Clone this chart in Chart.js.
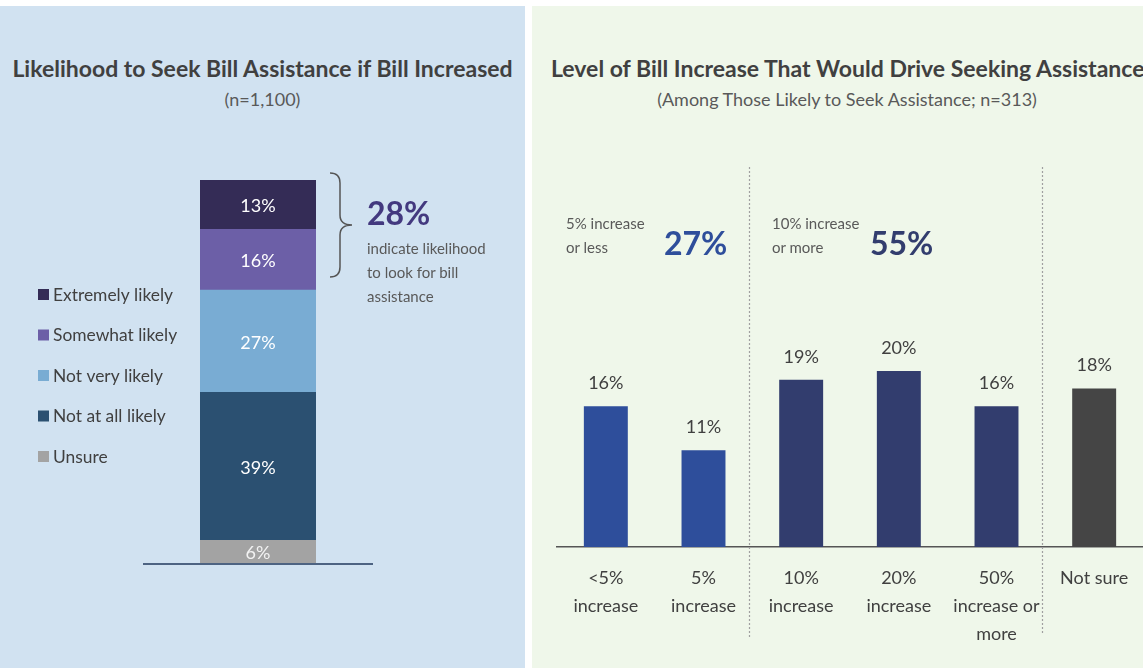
<!DOCTYPE html>
<html>
<head>
<meta charset="utf-8">
<script src="https://cdn.jsdelivr.net/npm/chart.js@4.4.0/dist/chart.umd.min.js"></script>
<style>
html,body{margin:0;padding:0;width:1143px;height:668px;overflow:hidden;background:#fff;font-family:Lato,'Open Sans',sans-serif;color:#404040;}
.painel{position:absolute;top:6px;height:662px;}
#painel-esq{left:0;width:525px;background:#d1e2f1;}
#painel-dir{left:532px;width:611px;background:#eff7ea;}
canvas{position:absolute;}
.txt{position:absolute;white-space:nowrap;}
.titulo{font-weight:bold;font-size:23px;color:#404040;}
.sub{font-size:18px;color:#595959;}
.nota{font-size:15px;color:#595959;line-height:24px;}
.grande{font-weight:bold;font-size:32px;}
</style>
</head>
<body>
<div class="painel" id="painel-esq"></div>
<div class="painel" id="painel-dir"></div>

<canvas id="chartLikelihood" width="525" height="450" style="left:0;top:150px;"></canvas>
<canvas id="chartIncrease" width="611" height="518" style="left:532px;top:150px;"></canvas>

<div class="txt titulo" style="left:0;width:525px;text-align:center;top:54px;">Likelihood to Seek Bill Assistance if Bill Increased</div>
<div class="txt sub" style="left:0;width:525px;text-align:center;top:88px;">(n=1,100)</div>
<div class="txt grande" style="left:367px;top:193px;color:#43397f;">28%</div>
<div class="txt nota" style="left:367px;top:236px;">indicate likelihood<br>to look for bill<br>assistance</div>

<div class="txt titulo" style="left:551px;top:54px;">Level of Bill Increase That Would Drive Seeking Assistance</div>
<div class="txt sub" style="left:547px;width:600px;text-align:center;top:88px;">(Among Those Likely to Seek Assistance; n=313)</div>
<div class="txt nota" style="left:566px;top:211px;">5% increase<br>or less</div>
<div class="txt grande" style="left:664px;top:223px;color:#2e4e9b;">27%</div>
<div class="txt nota" style="left:772px;top:211px;">10% increase<br>or more</div>
<div class="txt grande" style="left:870px;top:223px;color:#323d6e;">55%</div>

<script>
// Dados - painel esquerdo (de cima para baixo)
const likelihoodLabels = ['Extremely likely', 'Somewhat likely', 'Not very likely', 'Not at all likely', 'Unsure'];
const likelihoodValues = [13, 16, 27, 39, 6];
const likelihoodColors = ['#342c56', '#6c5fa7', '#79acd3', '#2b5071', '#a3a3a3'];

// Dados - painel direito
const increaseLabels = [['<5%', 'increase'], ['5%', 'increase'], ['10%', 'increase'], ['20%', 'increase'], ['50%', 'increase or', 'more'], ['Not sure']];
const increaseValues = [16, 11, 19, 20, 16, 18];
const increaseColors = ['#2e4e9b', '#2e4e9b', '#323d6e', '#323d6e', '#323d6e', '#454545'];

const fonte = 'Lato, "Open Sans", sans-serif';

// rotulos dentro da barra empilhada + linha de base
const rotulosPilha = {
    id: 'rotulosPilha',
    afterDatasetsDraw(chart){
        const ctx = chart.ctx;
        ctx.save();
        ctx.font = '18px ' + fonte;
        ctx.textAlign = 'center';
        ctx.textBaseline = 'middle';
        chart.data.datasets.forEach((ds, i) => {
            const el = chart.getDatasetMeta(i).data[0];
            ctx.fillStyle = ds.label === 'Unsure' ? '#f2f2f2' : '#ffffff';
            ctx.fillText(ds.data[0] + '%', el.x, (el.y + el.base) / 2 + 2);
        });
        const el0 = chart.getDatasetMeta(0).data[0];
        ctx.strokeStyle = '#4d6382';
        ctx.lineWidth = 2;
        ctx.beginPath();
        ctx.moveTo(el0.x - 115, el0.base + 1);
        ctx.lineTo(el0.x + 115, el0.base + 1);
        ctx.stroke();
        ctx.restore();
    }
};

// legenda a esquerda
const legendaEsq = {
    id: 'legendaEsq',
    afterDraw(chart){
        const ctx = chart.ctx;
        ctx.save();
        ctx.font = '17.4px ' + fonte;
        ctx.textBaseline = 'middle';
        likelihoodLabels.forEach((lab, i) => {
            const y = 145 + i * 40.5;
            ctx.fillStyle = likelihoodColors[i];
            ctx.fillRect(38, y - 6, 11, 11);
            ctx.fillStyle = '#404040';
            ctx.fillText(lab, 53, y);
        });
        ctx.restore();
    }
};

// chave ao lado dos dois segmentos de cima
const chave = {
    id: 'chave',
    afterDraw(chart){
        const n = chart.data.datasets.length;
        const top = chart.getDatasetMeta(n - 1).data[0];
        const seg = chart.getDatasetMeta(n - 2).data[0];
        const y1 = top.y - 7, y2 = seg.base - 13, ym = (y1 + y2) / 2;
        const x0 = top.x + 72, x1 = x0 + 10, x2 = x0 + 22;
        const ctx = chart.ctx;
        ctx.save();
        ctx.strokeStyle = '#555';
        ctx.lineWidth = 1.5;
        ctx.beginPath();
        ctx.moveTo(x0, y1);
        ctx.quadraticCurveTo(x1, y1, x1, y1 + 10);
        ctx.lineTo(x1, ym - 10);
        ctx.quadraticCurveTo(x1, ym, x2, ym);
        ctx.quadraticCurveTo(x1, ym, x1, ym + 10);
        ctx.lineTo(x1, y2 - 10);
        ctx.quadraticCurveTo(x1, y2, x0, y2);
        ctx.stroke();
        ctx.restore();
    }
};

// rotulos de valor e linhas pontilhadas
const rotulosBarras = {
    id: 'rotulosBarras',
    afterDatasetsDraw(chart){
        const ctx = chart.ctx;
        const xs = chart.scales.x;
        ctx.save();
        ctx.strokeStyle = '#a0a0a0';
        ctx.lineWidth = 1.2;
        ctx.setLineDash([2, 2]);
        [[1, 488], [4, 483]].forEach(([i, yEnd]) => {
            const x = Math.round((xs.getPixelForValue(i) + xs.getPixelForValue(i + 1)) / 2) - 2.5;
            ctx.beginPath();
            ctx.moveTo(x, 17);
            ctx.lineTo(x, yEnd);
            ctx.stroke();
        });
        ctx.setLineDash([]);
        ctx.font = '18px ' + fonte;
        ctx.fillStyle = '#404040';
        ctx.textAlign = 'center';
        ctx.textBaseline = 'middle';
        chart.getDatasetMeta(0).data.forEach((el, i) => {
            ctx.fillText(increaseValues[i] + '%', el.x, el.y - 23);
        });
        ctx.restore();
    }
};

const datasetsEsq = likelihoodLabels.map((lab, i) => ({
    label: lab,
    data: [likelihoodValues[i]],
    backgroundColor: likelihoodColors[i],
    barPercentage: 1,
    categoryPercentage: 1
})).reverse();

new Chart(document.getElementById('chartLikelihood'), {
    type: 'bar',
    data: { labels: [''], datasets: datasetsEsq },
    options: {
        responsive: false,
        animation: false,
        layout: { padding: { left: 200, right: 209, top: 30, bottom: 37 } },
        scales: {
            x: { stacked: true, display: false },
            y: { stacked: true, display: false, min: 0, max: 101 }
        },
        plugins: { legend: { display: false }, tooltip: { enabled: false } }
    },
    plugins: [rotulosPilha, legendaEsq, chave]
});

new Chart(document.getElementById('chartIncrease'), {
    type: 'bar',
    data: {
        labels: increaseLabels,
        datasets: [{ data: increaseValues, backgroundColor: increaseColors, barPercentage: 0.45, categoryPercentage: 1 }]
    },
    options: {
        responsive: false,
        animation: false,
        layout: { padding: { left: 25, right: 0, top: 177, bottom: 0 } },
        scales: {
            x: {
                grid: { display: false },
                border: { display: true, color: '#555555', width: 1.5 },
                ticks: { color: '#404040', font: { size: 18, family: fonte, lineHeight: 1.55 }, padding: 9, maxRotation: 0, autoSkip: false },
                afterFit: s => { s.height = 121; }
            },
            y: { display: false, min: 0, max: 25 }
        },
        plugins: { legend: { display: false }, tooltip: { enabled: false } }
    },
    plugins: [rotulosBarras]
});
</script>
</body>
</html>
